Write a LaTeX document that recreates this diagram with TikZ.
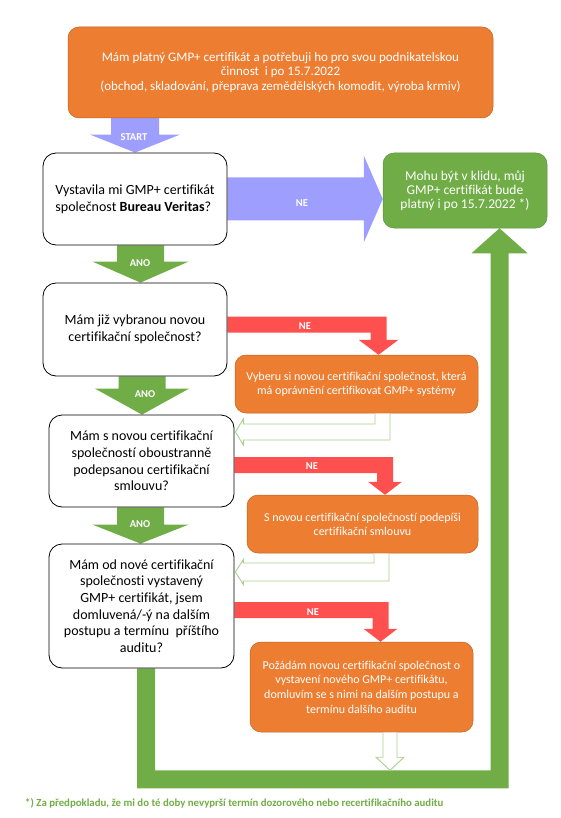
\documentclass[tikz,border=0pt]{standalone}
\usepackage{fontspec}
\setmainfont{Carlito}[Ligatures={NoCommon}]
\usetikzlibrary{calc}
\definecolor{cOr}{HTML}{ED7D31}
\definecolor{cOrB}{HTML}{C0621F}
\definecolor{cGr}{HTML}{70AD47}
\definecolor{cGrB}{HTML}{5B9238}
\definecolor{cLg}{HTML}{A9D18E}
\definecolor{cPu}{HTML}{9E9EFF}
\definecolor{cRd}{HTML}{FF5050}
\pgfdeclarelayer{bg}
\pgfsetlayers{bg,main}
% block arrow pointing down: #1 start, #2 tip, #3 shaft half, #4 head half, #5 head length, #6 colour
\newcommand\BlkDown[6]{\fill[#6] let \p1=(#1), \p2=(#2) in
 (\x1-#3pt,\y1) -- (\x1+#3pt,\y1) -- (\x1+#3pt,\y2+#5pt) -- (\x1+#4pt,\y2+#5pt) -- (\x1,\y2)
 -- (\x1-#4pt,\y2+#5pt) -- (\x1-#3pt,\y2+#5pt) -- cycle;}
% block arrow pointing right
\newcommand\BlkRight[6]{\fill[#6] let \p1=(#1), \p2=(#2) in
 (\x1,\y1+#3pt) -- (\x2-#5pt,\y1+#3pt) -- (\x2-#5pt,\y1+#4pt) -- (\x2,\y1) -- (\x2-#5pt,\y1-#4pt)
 -- (\x2-#5pt,\y1-#3pt) -- (\x1,\y1-#3pt) -- cycle;}
% elbow arrow: right then down
\newcommand\BlkElbow[6]{\fill[#6] let \p1=(#1), \p2=(#2) in
 (\x1,\y1+#3pt) -- (\x2+#3pt,\y1+#3pt) -- (\x2+#3pt,\y2+#5pt) -- (\x2+#4pt,\y2+#5pt) -- (\x2,\y2)
 -- (\x2-#4pt,\y2+#5pt) -- (\x2-#3pt,\y2+#5pt) -- (\x2-#3pt,\y1-#3pt) -- (\x1,\y1-#3pt) -- cycle;}
% hollow elbow arrow: down then left
\newcommand\HolElbow[6]{\draw[hollow] let \p1=(#1), \p2=(#2) in
 (\x1-#3pt,\y1) -- (\x1-#3pt,\y2+#4pt) -- (\x2+#6pt,\y2+#4pt) -- (\x2+#6pt,\y2+#5pt) -- (\x2,\y2)
 -- (\x2+#6pt,\y2-#5pt) -- (\x2+#6pt,\y2-#4pt) -- (\x1+#3pt,\y2-#4pt) -- (\x1+#3pt,\y1);}
\begin{document}
\begin{tikzpicture}[x=1pt,y=-1pt,
  qbox/.style={draw=black, line width=0.8pt, rounded corners=13pt, fill=white, inner sep=0pt,
    align=center, font=\fontsize{14}{16.7}\selectfont},
  obox/.style={fill=cOr, draw=cOrB, line width=0.5pt, rounded corners=11pt, text=white,
    inner sep=0pt, align=center},
  gbox/.style={fill=cGr, draw=cGrB, line width=0.5pt, rounded corners=11pt, text=white,
    inner sep=0pt, align=center},
  lbl/.style={text=white, font=\fontsize{10.5}{12}\selectfont\bfseries, inner sep=0pt},
  hollow/.style={draw=cLg, line width=0.9pt, fill=white, line join=miter}
]
\useasboundingbox (0,0) rectangle (561,818);

\node[obox, minimum width=425pt, minimum height=91pt, font=\fontsize{13}{14.2}\selectfont] (top) at (280.5,72.5)
  {Mám platný GMP+ certifikát a potřebuji ho pro svou podnikatelskou\\činnost\ \ i po 15.7.2022\\(obchod, skladování, přeprava zemědělských komodit, výroba krmiv)};
\node[qbox, minimum width=184pt, minimum height=92pt, align=left] (b1) at (135,199)
  {Vystavila mi GMP+ certifikát\\společnost \textbf{Bureau Veritas}?};
\node[gbox, minimum width=164pt, minimum height=75pt, font=\fontsize{13.5}{14}\selectfont] (ok) at (465,190.5)
  {Mohu být v klidu, můj\\GMP+ certifikát bude\\platný i po 15.7.2022 *)};
\node[qbox, minimum width=184pt, minimum height=93pt] (b2) at (135,329.5)
  {Mám již vybranou novou\\certifikační společnost?};
\node[obox, minimum width=243pt, minimum height=58pt, font=\fontsize{12}{14}\selectfont] (o2) at (356.5,384)
  {Vyberu si novou certifikační společnost, která\\má oprávnění certifikovat GMP+ systémy};
\node[qbox, minimum width=185pt, minimum height=92pt] (b3) at (141.5,461)
  {Mám s novou certifikační\\společností oboustranně\\podepsanou certifikační\\smlouvu?};
\node[obox, minimum width=231pt, minimum height=58pt, font=\fontsize{12}{14}\selectfont] (o3) at (362.5,524)
  {S novou certifikační společností podepíši\\certifikační smlouvu};
\node[qbox, minimum width=185pt, minimum height=124pt] (b4) at (141.5,606)
  {Mám od nové certifikační\\společnosti vystavený\\GMP+ certifikát, jsem\\domluvená/-ý na dalším\\postupu a termínu\ \ příštího\\auditu?};
\node[obox, minimum width=223pt, minimum height=90pt, font=\fontsize{12}{14.7}\selectfont] (o4) at (361.5,687)
  {Požádám novou certifikační společnost o\\vystavení nového GMP+ certifikátu,\\domluvím se s nimi na dalším postupu a\\termínu dalšího auditu};

\coordinate (fb) at ($(o4.south)+(0,47)$);

\begin{pgfonlayer}{bg}
  % START
  \BlkDown{top.south -| b1.north}{b1.north}{24}{45}{18}{cPu}
  % ANO arrows
  \BlkDown{$(b1.south)+(5.5,0)$}{$(b2.north)+(5.5,0)$}{23.5}{48}{21}{cGr}
  \BlkDown{$(b2.south)+(7,0)$}{b3.north}{23.5}{47}{26}{cGr}
  \BlkDown{$(b3.south)+(-1,0)$}{b4.north}{23.5}{48}{19}{cGr}
  % NE purple
  \BlkRight{b1.east}{ok.west}{21.5}{43.5}{19}{cPu}
  % NE red elbows
  \BlkElbow{$(b2.east)+(0,-5)$}{$(o2.north)+(22,0)$}{8}{20}{15}{cRd}
  \BlkElbow{$(b3.east)+(0,4)$}{$(o3.north)+(22.5,0)$}{8}{17}{13}{cRd}
  \BlkElbow{$(b4.east)+(0,4)$}{$(o4.north)+(19,0)$}{8}{17}{13}{cRd}
  % big green return arrow
  \fill[cGr] let \p1=($(b4.south)+(4.5,0)$), \p2=($(ok.south)+(34.5,0)$), \p3=(fb) in
    (\x1-9pt,\y1) -- (\x1-9pt,\y3-9pt) -- (\x2+9pt,\y3-9pt) -- (\x2+9pt,\y2-25pt) -- (\x2+28pt,\y2-25pt)
    -- (\x2,\y2) -- (\x2-28pt,\y2-25pt) -- (\x2-9pt,\y2-25pt) -- (\x2-9pt,\y3+9pt) -- (\x1+9pt,\y3+9pt)
    -- (\x1+9pt,\y1) -- cycle;
\end{pgfonlayer}

% hollow green arrows
\HolElbow{$(o2.south)+(26,0.3)$}{$(b3.east)+(1,-29)$}{7.5}{8}{13}{8}
\HolElbow{$(o3.south)+(19,0.3)$}{$(b4.east)+(1,-34)$}{7.5}{9}{12.5}{8}
\draw[hollow] let \p1=($(o4.south)+(28.5,0.3)$), \p2=($(fb)+(0,-9)$) in
  (\x1-7pt,\y1) -- (\x1-7pt,\y2+13pt) -- (\x1-14pt,\y2+13pt) -- (\x1,\y2) -- (\x1+14pt,\y2+13pt)
  -- (\x1+7pt,\y2+13pt) -- (\x1+7pt,\y1);

% labels
\node[lbl] (lst) at (134,137) {START};
\node[lbl] (la1) at (140,263) {ANO};
\node[lbl] (la2) at (145,394) {ANO};
\node[lbl] (la3) at (140,524) {ANO};
\node[lbl] (ln1) at (302,203) {NE};
\node[lbl] (ln2) at (305,326) {NE};
\node[lbl] (ln3) at (312,466) {NE};
\node[lbl] (ln4) at (313,612) {NE};

\node[anchor=west, text=cGr, font=\fontsize{10.8}{12}\selectfont\bfseries, inner sep=0pt] (fn) at (25,803)
  {*) Za předpokladu, že mi do té doby nevyprší termín dozorového nebo recertifikačního auditu};
\end{tikzpicture}
\end{document}
